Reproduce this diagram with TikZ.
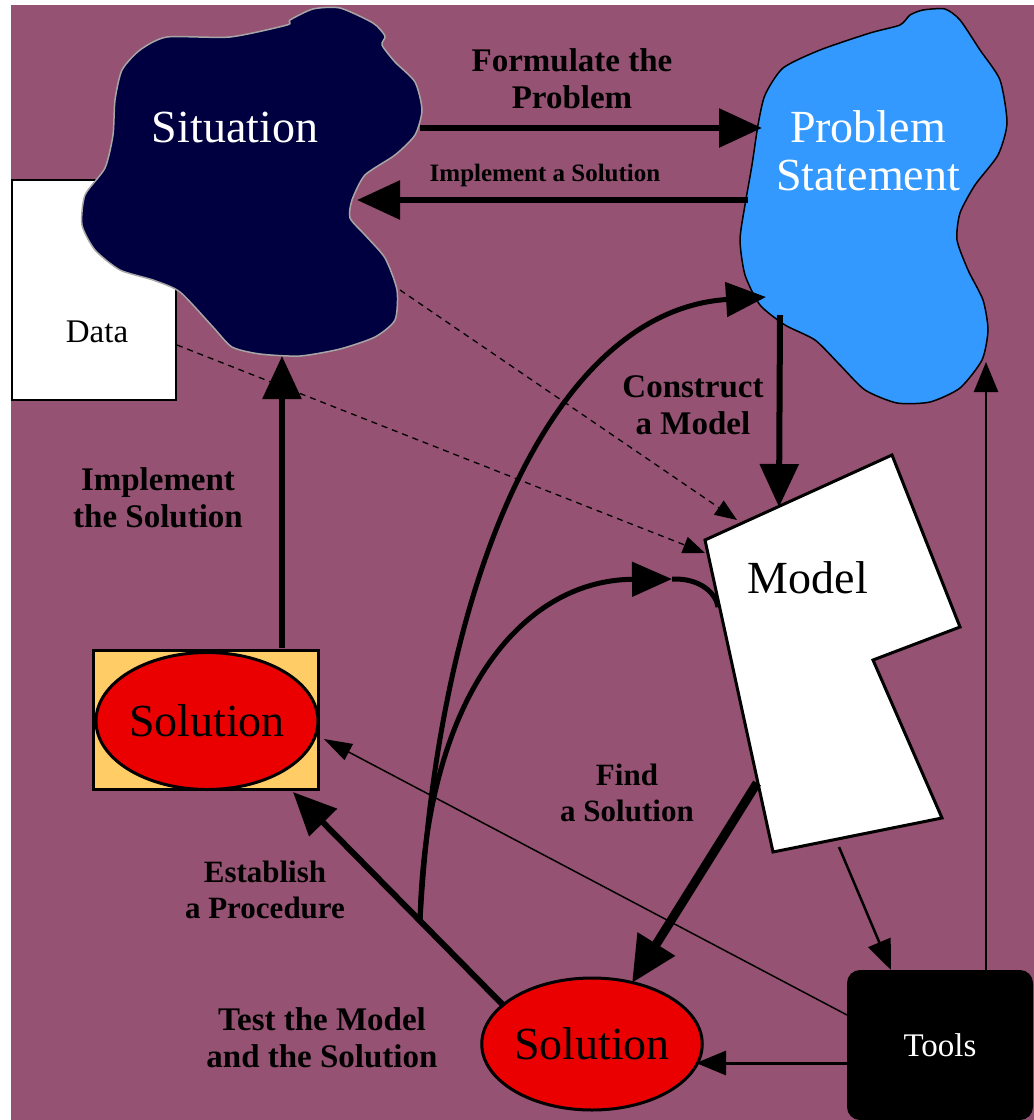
\documentclass[tikz,border=0pt]{standalone}
\usepackage{fontspec}
\setmainfont{Liberation Serif}
\usetikzlibrary{arrows.meta,shapes.geometric}
\definecolor{plum}{RGB}{149,82,114}
\definecolor{navyblob}{RGB}{0,0,64}
\definecolor{skyblob}{RGB}{51,153,255}
\definecolor{peach}{RGB}{255,204,102}
\definecolor{solred}{RGB}{234,0,0}

\begin{document}
\begin{tikzpicture}[x=1pt,y=-1pt,
    lbl/.style={font=\fontsize{33}{37}\selectfont\bfseries, align=center, inner sep=0pt},
    name text/.style={font=\fontsize{46}{48}\selectfont, align=center, inner sep=0pt},
    small text/.style={font=\fontsize{33}{36}\selectfont, inner sep=0pt},
    big arrow/.style={line width=6pt, -{Triangle[length=43pt,width=38pt]}},
    curve arrow/.style={line width=5pt, -{Triangle[length=40pt,width=34pt]}},
    thin arrow/.style={line width=2.5pt, -{Triangle[length=30pt,width=24pt]}},
    dash arrow/.style={line width=1.3pt, dash pattern=on 6pt off 5pt, -{Triangle[length=22pt,width=17pt]}},
    solution/.style={ellipse, draw, line width=3pt, fill=solred, inner sep=0pt, font=\fontsize{46}{48}\selectfont}]

	% Background
	\fill[white] (0,0) rectangle (1034,1120);
	\fill[plum] (11,5) rectangle (1034,1120);
	\useasboundingbox (0,0) rectangle (1034,1120);

	% Data sheet
	\draw[fill=white, line width=2pt] (12,180) rectangle (176,400);
	\node[small text] (data) at (97,332) {Data};

	% Situation blob
	\draw[gray!70, line width=1.5pt, fill=navyblob] plot[smooth cycle, tension=0.4] coordinates {
		(287,25) (290,20) (313,9) (340,8) (373,23) (385,36) (382,45) (395,62) (415,82) (422,110)
		(415,135) (395,155) (365,175) (352,200) (350,218) (365,235) (385,258)
		(397,290) (395,320) (375,337) (340,349) (300,356) (260,354) (232,347)
		(213,327) (180,292) (153,280) (120,270) (95,250) (82,225) (85,195)
		(105,168) (113,135) (115,100) (122,70) (140,50) (167,37) (230,37)};
	\node[name text, text=white] (situation) at (235,127) {Situation};

	% Problem statement blob
	\draw[line width=1.5pt, fill=skyblob] plot[smooth cycle, tension=0.4] coordinates {
		(900,25) (910,15) (923,10) (945,9) (960,20) (980,50) (1000,80) (1007,123)
		(998,155) (975,185) (960,213) (957,240) (968,270) (983,300) (988,330)
		(982,360) (960,388) (930,402) (897,403) (865,390) (840,365) (815,340)
		(785,325) (760,305) (745,275) (740,240) (745,205) (752,165) (758,125)
		(765,95) (783,68) (820,50) (870,33)};
	\node[name text, text=white] (problem) at (868,151) {Problem\\Statement};

	% Model sheet
	\draw[fill=white, line width=3pt, line join=miter]
		(705,540) -- (892,455) -- (960,627) -- (873,660) -- (942,818) -- (773,852) -- cycle;
	\node[name text] (model) at (808,578) {Model};

	% Solutions and tools
	\draw[fill=peach, line width=3pt] (93,650) rectangle (318,789);
	\node[solution, minimum width=222pt, minimum height=137pt] (solA) at (207,721) {Solution};
	\node[solution, minimum width=210pt, minimum height=132pt] (solB) at (592,1044) {Solution};
	\node[fill=black, rounded corners=13pt, minimum width=186pt, minimum height=150pt,
		text=white, small text] (tools) at (940,1045) {Tools};

	% Define coordinates
	\coordinate (sitE)  at (420,128);
	\coordinate (sitE2) at (357,200);
	\coordinate (sitS)  at (282,356);
	\coordinate (sitD)  at (400,290);
	\coordinate (datE)  at (177,345);
	\coordinate (psW)   at (762,128);
	\coordinate (psW2)  at (748,200);
	\coordinate (psS)   at (780,315);
	\coordinate (psC)   at (766,297);
	\coordinate (psB)   at (986,362);
	\coordinate (mTop)  at (779,507);
	\coordinate (mTip1) at (737,520);
	\coordinate (mTip2) at (705,553);
	\coordinate (mTip3) at (672,579);
	\coordinate (mLeft) at (718,607);
	\coordinate (mOut)  at (757,783);
	\coordinate (mBot)  at (839,847);
	\coordinate (sAtop) at (282,648);
	\coordinate (sAin)  at (293,792);
	\coordinate (sAthin) at (324,739);
	\coordinate (sBtop) at (632,983);
	\coordinate (sBnw)  at (504,1006);
	\coordinate (sBe)   at (696,1063);
	\coordinate (fork)  at (420,921);
	\coordinate (tN1)   at (891,970);
	\coordinate (tN2)   at (986,970);
	\coordinate (tW1)   at (847,1015);
	\coordinate (tW2)   at (847,1063);

	% Main steps
	\draw[big arrow] (sitE) -- (psW);
	\draw[big arrow] (psW2) -- (sitE2);
	\draw[big arrow] (psS) -- (mTop);
	\draw[big arrow] (sAtop) -- (sitS);
	\draw[big arrow, line width=9pt, -{Triangle[length=46pt,width=42pt]}] (mOut) -- (sBtop);
	\draw[big arrow] (sBnw) -- (sAin);

	% Testing curves
	\draw[curve arrow] (fork) .. controls (440,560) and (560,310) .. (psC);
	\draw[curve arrow] (fork) .. controls (425,700) and (520,580) .. (mTip3);
	\draw[line width=5pt] (mTip3) .. controls (700,578) and (716,593) .. (mLeft);

	% Data flow
	\draw[dash arrow] (sitD) -- (mTip1);
	\draw[dash arrow] (datE) -- (mTip2);

	% Tools
	\draw[thin arrow] (mBot) -- (tN1);
	\draw[thin arrow] (tN2) -- (psB);
	\draw[thin arrow, line width=3pt] (tW2) -- (sBe);
	\draw[line width=1.5pt, -{Triangle[length=28pt,width=18pt]}] (tW1) -- (sAthin);

	% Labels
	\node[lbl] (formulate) at (572,79) {Formulate the\\Problem};
	\node[lbl, font=\fontsize{25}{28}\selectfont\bfseries] (implA) at (545,175) {Implement a Solution};
	\node[lbl] (construct) at (693,405) {Construct\\a Model};
	\node[lbl] (implB) at (158,498) {Implement\\the Solution};
	\node[lbl, font=\fontsize{31}{36}\selectfont\bfseries] (find) at (627,793) {Find\\a Solution};
	\node[lbl, font=\fontsize{31}{36}\selectfont\bfseries] (establish) at (265,890) {Establish\\a Procedure};
	\node[lbl] (test) at (322,1038) {Test the Model\\and the Solution};
\end{tikzpicture}
\end{document}
